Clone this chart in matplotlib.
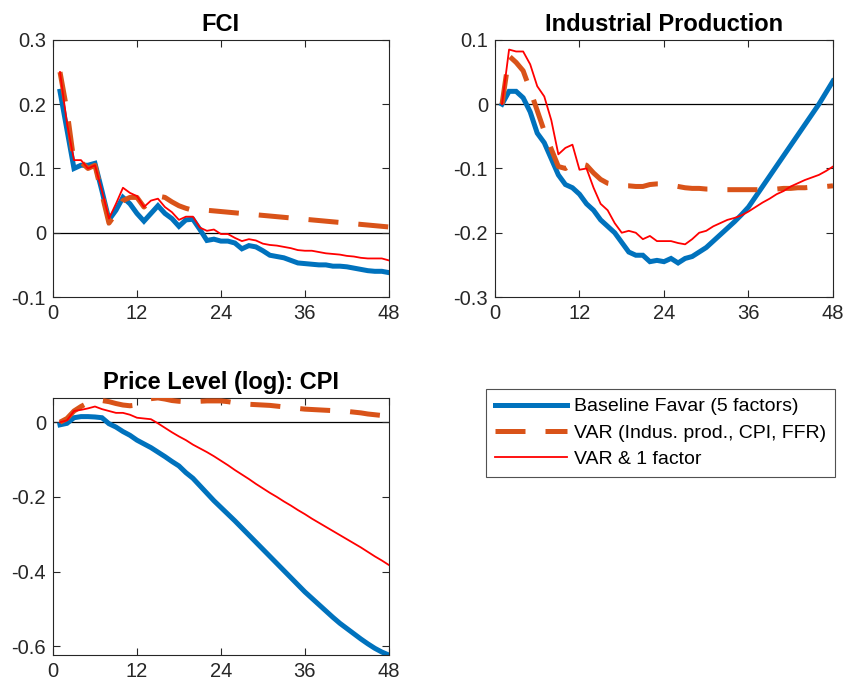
import numpy as np
import matplotlib
matplotlib.use("Agg")
import matplotlib.pyplot as plt

plt.rcParams["font.family"] = ["Liberation Sans", "DejaVu Sans"]

horizon = np.arange(1, 49)

# ── impulse responses: FCI ────────────────────────────────────────────
fci_favar = [0.22, 0.16, 0.10, 0.105, 0.105, 0.108, 0.065, 0.02, 0.035, 0.055,
             0.045, 0.03, 0.018, 0.03, 0.042, 0.03, 0.022, 0.01, 0.02, 0.021,
             0.005, -0.012, -0.01, -0.013, -0.013, -0.016, -0.025, -0.02, -0.022, -0.028,
             -0.035, -0.037, -0.039, -0.043, -0.047, -0.048, -0.049, -0.05, -0.05, -0.052,
             -0.052, -0.053, -0.055, -0.057, -0.059, -0.06, -0.06, -0.062]
fci_var = [0.25, 0.19, 0.11, 0.11, 0.10, 0.105, 0.06, 0.015, 0.03, 0.05,
           0.055, 0.055, 0.04, 0.05, 0.057, 0.055, 0.048, 0.042, 0.038, 0.035,
           0.036, 0.035, 0.034, 0.033, 0.032, 0.031, 0.03, 0.029, 0.028, 0.027,
           0.026, 0.025, 0.024, 0.023, 0.022, 0.021, 0.02, 0.019, 0.018, 0.017,
           0.016, 0.015, 0.014, 0.013, 0.012, 0.011, 0.01, 0.009]
fci_var1f = [0.25, 0.17, 0.113, 0.113, 0.10, 0.105, 0.065, 0.022, 0.045, 0.07,
             0.062, 0.057, 0.04, 0.05, 0.053, 0.04, 0.032, 0.02, 0.025, 0.025,
             0.008, 0.003, 0.005, -0.002, -0.002, -0.008, -0.013, -0.01, -0.012, -0.017,
             -0.019, -0.02, -0.022, -0.024, -0.027, -0.028, -0.028, -0.03, -0.032, -0.033,
             -0.034, -0.036, -0.037, -0.039, -0.04, -0.04, -0.04, -0.043]

# ── impulse responses: industrial production ──────────────────────────
ip_favar = [0.0, 0.02, 0.02, 0.01, -0.012, -0.045, -0.06, -0.085, -0.11, -0.125,
            -0.13, -0.14, -0.155, -0.165, -0.18, -0.19, -0.2, -0.215, -0.23, -0.235,
            -0.235, -0.245, -0.243, -0.245, -0.24, -0.247, -0.24, -0.237, -0.23, -0.223,
            -0.213, -0.203, -0.193, -0.183, -0.172, -0.16, -0.144, -0.128, -0.112, -0.096,
            -0.08, -0.064, -0.048, -0.032, -0.016, 0.0, 0.018, 0.036]
ip_var = [0.0, 0.075, 0.065, 0.052, 0.022, -0.01, -0.042, -0.07, -0.097, -0.1,
          -0.093, -0.092, -0.095, -0.107, -0.117, -0.123, -0.125, -0.127, -0.127, -0.128,
          -0.128, -0.125, -0.124, -0.124, -0.126, -0.128, -0.13, -0.131, -0.131, -0.132,
          -0.132, -0.132, -0.133, -0.133, -0.133, -0.133, -0.133, -0.133, -0.132, -0.132,
          -0.131, -0.131, -0.13, -0.13, -0.129, -0.128, -0.128, -0.127]
ip_var1f = [0.0, 0.085, 0.082, 0.082, 0.062, 0.028, 0.012, -0.025, -0.078, -0.068,
            -0.063, -0.102, -0.1, -0.13, -0.155, -0.165, -0.185, -0.2, -0.197, -0.2,
            -0.21, -0.205, -0.213, -0.213, -0.213, -0.216, -0.218, -0.21, -0.2, -0.197,
            -0.19, -0.185, -0.18, -0.177, -0.173, -0.167, -0.16, -0.153, -0.147, -0.14,
            -0.135, -0.128, -0.123, -0.118, -0.114, -0.11, -0.104, -0.097]

# ── impulse responses: CPI (log) ──────────────────────────────────────
cpi_favar = [-0.007, -0.003, 0.012, 0.015, 0.015, 0.014, 0.012, -0.004, -0.013, -0.025,
             -0.035, -0.048, -0.058, -0.068, -0.08, -0.092, -0.105, -0.117, -0.135, -0.15,
             -0.17, -0.19, -0.21, -0.228, -0.246, -0.264, -0.283, -0.302, -0.321, -0.34,
             -0.359, -0.378, -0.397, -0.416, -0.435, -0.454, -0.471, -0.488, -0.505, -0.522,
             -0.538, -0.552, -0.566, -0.58, -0.593, -0.605, -0.615, -0.623]
cpi_var = [0.0, 0.01, 0.03, 0.042, 0.052, 0.06, 0.058, 0.055, 0.05, 0.046,
           0.044, 0.046, 0.055, 0.063, 0.065, 0.062, 0.058, 0.056, 0.055, 0.055,
           0.056, 0.057, 0.057, 0.057, 0.055, 0.052, 0.05, 0.048, 0.047, 0.046,
           0.045, 0.043, 0.041, 0.039, 0.037, 0.035, 0.034, 0.033, 0.032, 0.031,
           0.03, 0.029, 0.027, 0.025, 0.022, 0.02, 0.018, 0.016]
cpi_var1f = [0.0, 0.005, 0.03, 0.033, 0.037, 0.042, 0.035, 0.03, 0.025, 0.025,
             0.02, 0.012, 0.01, 0.008, -0.003, -0.015, -0.027, -0.038, -0.048, -0.06,
             -0.07, -0.08, -0.091, -0.103, -0.115, -0.128, -0.14, -0.152, -0.165, -0.177,
             -0.189, -0.2, -0.212, -0.223, -0.235, -0.246, -0.258, -0.269, -0.28, -0.291,
             -0.302, -0.313, -0.324, -0.335, -0.347, -0.359, -0.37, -0.382]

series_labels = ["Baseline Favar (5 factors)", "VAR (Indus. prod., CPI, FFR)", "VAR & 1 factor"]
panel_titles = ["FCI", "Industrial Production", "Price Level (log): CPI"]

BLUE = "#0072BD"
ORANGE = "#D95319"
RED = "#FF0000"
INK = "#262626"


def draw_panel(ax, favar, var, var1f, title, ylim, yticks, ytl):
    ax.axhline(0, color="black", lw=0.9, zorder=1)
    ax.plot(horizon, favar, color=BLUE, lw=3.6, solid_joinstyle="miter", zorder=2)
    ax.plot(horizon, var, color=ORANGE, lw=3.6, dashes=(6, 4), zorder=3)
    ax.plot(horizon, var1f, color=RED, lw=1.3, zorder=4)
    ax.set_xlim(0, 48)
    ax.set_ylim(*ylim)
    ax.set_xticks([0, 12, 24, 36, 48])
    ax.set_yticks(yticks)
    ax.set_yticklabels(ytl)
    ax.tick_params(direction="in", top=True, right=True, length=5, width=0.8,
                   labelsize=14.5, colors=INK, labelcolor=INK, pad=5)
    for sp in ax.spines.values():
        sp.set_color(INK)
        sp.set_linewidth(0.8)
    ax.set_title(title, fontsize=17, fontweight="bold", pad=6.5)


fig = plt.figure(figsize=(8.48, 6.93), dpi=100)
ax1 = fig.add_axes([0.0625, 0.5714, 0.396, 0.371])
ax2 = fig.add_axes([0.5837, 0.5714, 0.3986, 0.371])
ax3 = fig.add_axes([0.0625, 0.0548, 0.396, 0.371])

draw_panel(ax1, fci_favar, fci_var, fci_var1f, panel_titles[0], (-0.1, 0.3),
           [-0.1, 0, 0.1, 0.2, 0.3], ["-0.1", "0", "0.1", "0.2", "0.3"])
draw_panel(ax2, ip_favar, ip_var, ip_var1f, panel_titles[1], (-0.3, 0.1),
           [-0.3, -0.2, -0.1, 0, 0.1], ["-0.3", "-0.2", "-0.1", "0", "0.1"])
draw_panel(ax3, cpi_favar, cpi_var, cpi_var1f, panel_titles[2], (-0.623, 0.065),
           [-0.6, -0.4, -0.2, 0], ["-0.6", "-0.4", "-0.2", "0"])

handles = ax1.get_lines()[1:4]
leg = fig.legend(handles, series_labels, loc="upper left",
                 bbox_to_anchor=(0.573, 0.4387), fontsize=14, frameon=True,
                 fancybox=False, edgecolor=INK, handlelength=3.7,
                 handletextpad=0.4, borderpad=0.45, labelspacing=0.45,
                 borderaxespad=0.0)
leg.get_frame().set_linewidth(0.8)

fig.savefig("out.png", dpi=100)
